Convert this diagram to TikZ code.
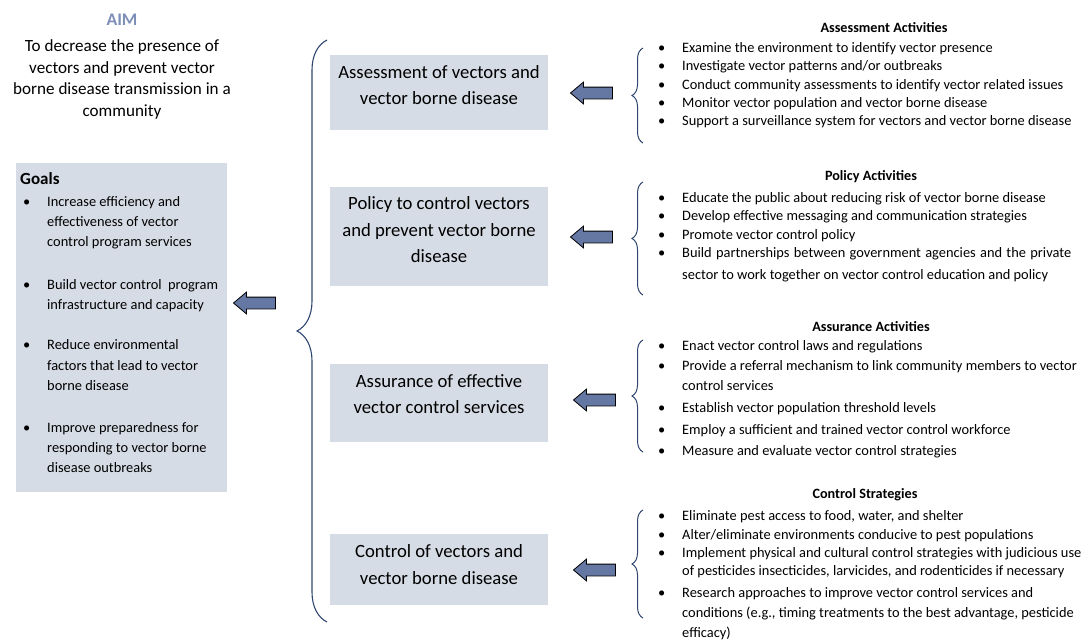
\documentclass[tikz,border=0pt]{standalone}
\usepackage{fontspec}
\setmainfont{Carlito}
\usetikzlibrary{shapes.arrows,decorations.pathreplacing}
\definecolor{boxgray}{HTML}{D6DCE5}
\definecolor{aimblue}{HTML}{7D8FB8}
\definecolor{arrowblue}{HTML}{6577A3}
\definecolor{bracenavy}{HTML}{2E4670}
\newcommand{\bul}{\llap{\makebox[24pt][l]{\textbullet}}}

\begin{document}
\begin{tikzpicture}[x=1pt,y=-1pt,
    midbox/.style={fill=boxgray,minimum width=218pt,inner sep=0pt},
    midtext/.style={align=center,font=\fontsize{18.7}{26.5}\selectfont},
    actline/.style={anchor=base west,inner sep=0pt,font=\fontsize{14.4}{16}\selectfont},
    goalline/.style={anchor=base west,inner sep=0pt,font=\fontsize{14.4}{16}\selectfont},
    acthead/.style={inner sep=0pt,font=\fontsize{14.2}{16}\selectfont\bfseries},
    blockarrow/.style={single arrow,shape border rotate=180,draw=black,line width=0.8pt,
      fill=arrowblue,minimum height=42pt,inner xsep=0pt,inner ysep=5.5pt,
      single arrow head extend=5pt,single arrow tip angle=80},
    bigbrace/.style={draw=bracenavy,line width=1.1pt,decorate,decoration={brace,amplitude=30pt}},
    smallbrace/.style={draw=bracenavy,line width=1pt,decorate,decoration={brace,amplitude=11pt}}]
    \useasboundingbox (0,0) rectangle (1088,643);

    % aim and goals
    \node[inner sep=0pt,text=aimblue,font=\fontsize{17.7}{20}\selectfont\bfseries] (aim) at (122,20) {AIM};
    \node[align=center,inner sep=0pt,font=\fontsize{17.1}{21.7}\selectfont] (aimtext) at (122,79.5)
      {To decrease the presence of\\vectors and prevent vector\\borne disease transmission in a\\community};
    \node[fill=boxgray,minimum width=211pt,minimum height=329pt,inner sep=0pt] (goalbox) at (121.5,327.5) {};
    \node[anchor=base west,inner sep=0pt,font=\fontsize{17}{19}\selectfont\bfseries] (goalhead) at (20,184) {Goals};
    \foreach \y/\txt [count=\i] in {202.7/{\bul Increase efficiency and},222.7/{effectiveness of vector},
      242.7/{control program services},285/{\bul Build vector control\ \ program},305/{infrastructure and capacity},
      345/{\bul Reduce environmental},366/{factors that lead to vector},386/{borne disease},
      428/{\bul Improve preparedness for},448/{responding to vector borne},468/{disease outbreaks}}
    \node[goalline] (goal\i) at (47,\y+4) {\txt};

    \node[blockarrow] (bigarrow) at (258,303) {};
    \draw[bigbrace] (327,622) -- (327,40);

    % middle boxes
    \node[midbox,minimum height=75pt] (asmbox) at (439,92.5) {};
    \node[midtext] (asmtext) at (439,85) {Assessment of vectors and\\vector borne disease};
    \node[midbox,minimum height=99pt] (polbox) at (439,236.5) {};
    \node[midtext] (poltext) at (439,229.7) {Policy to control vectors\\and prevent vector borne\\disease};
    \node[midbox,minimum height=78pt] (assbox) at (439,403) {};
    \node[midtext] (asstext) at (439,394) {Assurance of effective\\vector control services};
    \node[midbox,minimum height=71pt] (conbox) at (439,569.5) {};
    \node[midtext] (context) at (439,564.5) {Control of vectors and\\vector borne disease};

    \node[blockarrow] (asmarrow) at (595,93) {};
    \node[blockarrow] (polarrow) at (595,237) {};
    \node[blockarrow] (assarrow) at (598,400) {};
    \node[blockarrow] (conarrow) at (598,570) {};

    % activities
    \draw[smallbrace] (643,143) -- (643,48);
    \node[acthead] (asmhead) at (884,28) {Assessment Activities};
    \foreach \y/\txt [count=\i] in {48.3/{\bul Examine the environment to identify vector presence},
      66.7/{\bul Investigate vector patterns and/or outbreaks},
      85/{\bul Conduct community assessments to identify vector related issues},
      103.3/{\bul Monitor vector population and vector borne disease},
      121.7/{\bul Support a surveillance system for vectors and vector borne disease}}
    \node[actline] (asm\i) at (682,\y+4) {\txt};

    \draw[smallbrace] (643,295) -- (643,182);
    \node[acthead] (polhead) at (871,177) {Policy Activities};
    \foreach \y/\txt [count=\i] in {198.3/{\bul Educate the public about reducing risk of vector borne disease},
      216.7/{\bul Develop effective messaging and communication strategies},
      235/{\bul Promote vector control policy},
      253.3/{\bul\makebox[389pt][s]{Build partnerships between government agencies and the private}},
      275/{sector to work together on vector control education and policy}}
    \node[actline] (pol\i) at (682,\y+4) {\txt};

    \draw[smallbrace] (643,452) -- (643,340);
    \node[acthead] (asshead) at (871,327) {Assurance Activities};
    \foreach \y/\txt [count=\i] in {346.7/{\bul Enact vector control laws and regulations},
      366.7/{\bul Provide a referral mechanism to link community members to vector},
      386.7/{control services},
      408.3/{\bul Establish vector population threshold levels},
      430/{\bul Employ a sufficient and trained vector control workforce},
      451.7/{\bul Measure and evaluate vector control strategies}}
    \node[actline] (ass\i) at (682,\y+4) {\txt};

    \draw[smallbrace] (643,618) -- (643,510);
    \node[acthead] (conhead) at (865,495) {Control Strategies};
    \foreach \y/\txt [count=\i] in {516.7/{\bul Eliminate pest access to food, water, and shelter},
      535/{\bul Alter/eliminate environments conducive to pest populations},
      553.3/{\bul Implement physical and cultural control strategies with judicious use},
      571.7/{of pesticides insecticides, larvicides, and rodenticides if necessary},
      593.3/{\bul Research approaches to improve vector control services and},
      613.3/{conditions (e.g., timing treatments to the best advantage, pesticide},
      633.3/{efficacy)}}
    \node[actline] (con\i) at (682,\y+4) {\txt};
\end{tikzpicture}
\end{document}
